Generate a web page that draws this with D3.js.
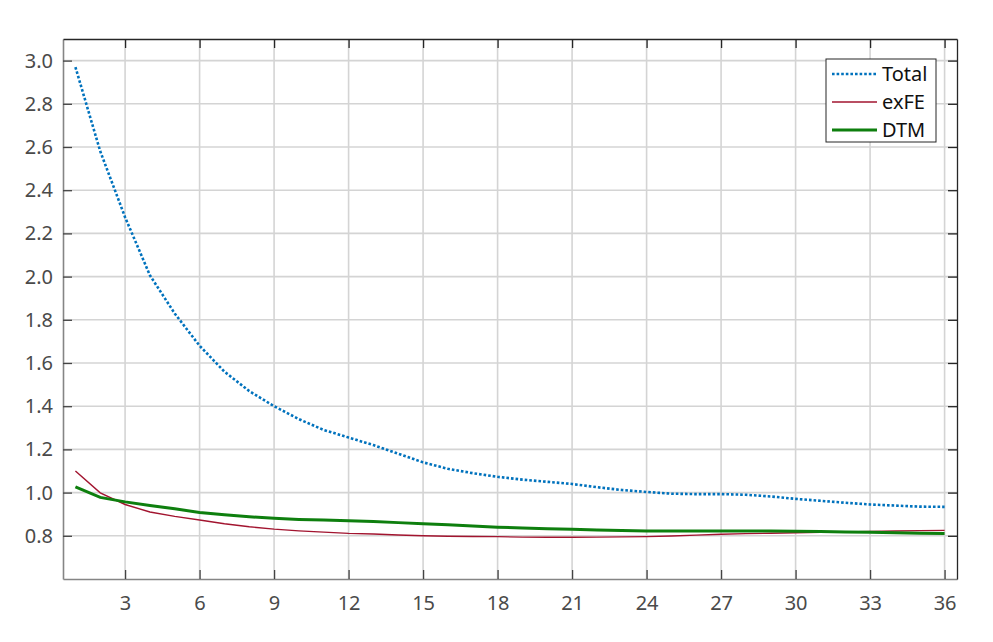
<!DOCTYPE html>
<html>
<head>
<meta charset="utf-8">
<script src="https://cdn.jsdelivr.net/npm/d3@7"></script>
<style>
  body { margin: 0; background: #fff; }
  text { font-family: 'Noto Sans', 'Open Sans', sans-serif; }
</style>
</head>
<body>
<div id="chart"></div>
<script>
const horizons = d3.range(1, 37)
const total = [2.97, 2.58, 2.275, 2.006, 1.829, 1.68, 1.56, 1.47, 1.40, 1.34,
               1.29, 1.255, 1.22, 1.18, 1.14, 1.11, 1.09, 1.073, 1.06, 1.05,
               1.04, 1.025, 1.012, 1.003, 0.995, 0.993, 0.993, 0.99, 0.982, 0.971,
               0.962, 0.953, 0.945, 0.94, 0.935, 0.934]
const exFE = [1.10, 0.999, 0.945, 0.91, 0.89, 0.873, 0.856, 0.842, 0.831, 0.823,
              0.817, 0.811, 0.808, 0.804, 0.80, 0.798, 0.797, 0.796, 0.794, 0.793,
              0.793, 0.794, 0.795, 0.796, 0.799, 0.803, 0.807, 0.81, 0.812, 0.814,
              0.816, 0.818, 0.82, 0.822, 0.824, 0.825]
const dtm = [1.027, 0.978, 0.957, 0.94, 0.925, 0.908, 0.897, 0.888, 0.881, 0.876,
             0.873, 0.870, 0.866, 0.861, 0.856, 0.851, 0.845, 0.840, 0.836, 0.833,
             0.83, 0.827, 0.824, 0.822, 0.822, 0.822, 0.822, 0.822, 0.822, 0.821,
             0.82, 0.818, 0.816, 0.814, 0.812, 0.811]
const xTicks = [3, 6, 9, 12, 15, 18, 21, 24, 27, 30, 33, 36]
const yTicks = [0.8, 1.0, 1.2, 1.4, 1.6, 1.8, 2.0, 2.2, 2.4, 2.6, 2.8, 3.0]
const seriesNames = ['Total', 'exFE', 'DTM']

let margin = {top: 39, right: 36, bottom: 63, left: 63},
    width = 993 - margin.left - margin.right,
    height = 642 - margin.top - margin.bottom

let x = d3.scaleLinear().domain([0.5, 36.5]).range([0, width])
let y = d3.scaleLinear().domain([0.6, 3.1]).range([height, 0])

let svg = d3.select('#chart').append('svg')
            .attr('width', 993)
            .attr('height', 642)
          .append('g')
            .attr('transform', 'translate(' + margin.left + ',' + margin.top + ')')

// grid
svg.append('g').selectAll('line').data(xTicks).join('line')
   .attr('x1', d => x(d)).attr('x2', d => x(d))
   .attr('y1', 0).attr('y2', height)
   .attr('stroke', '#d4d4d4').attr('stroke-width', 1.6)
svg.append('g').selectAll('line').data(yTicks).join('line')
   .attr('y1', d => y(d)).attr('y2', d => y(d))
   .attr('x1', 0).attr('x2', width)
   .attr('stroke', '#d4d4d4').attr('stroke-width', 1.6)

// axes
let xAxis = svg.append('g')
   .attr('transform', 'translate(0,' + height + ')')
   .call(d3.axisBottom(x).tickValues(xTicks).tickSizeInner(-9).tickSizeOuter(0).tickPadding(17))
let yAxis = svg.append('g')
   .call(d3.axisLeft(y).tickValues(yTicks).tickFormat(d3.format('.1f')).tickSizeInner(-9).tickSizeOuter(0).tickPadding(10))
let xTop = svg.append('g')
   .call(d3.axisTop(x).tickValues(xTicks).tickSizeInner(-9).tickSizeOuter(0).tickFormat(''))
let yRight = svg.append('g')
   .attr('transform', 'translate(' + width + ',0)')
   .call(d3.axisRight(y).tickValues(yTicks).tickSizeInner(-9).tickSizeOuter(0).tickFormat(''))

;[xAxis, yAxis].forEach(g => {
  g.select('.domain').attr('stroke', '#858585').attr('stroke-width', 1.6)
  g.selectAll('.tick line').attr('stroke', '#444').attr('stroke-width', 1.3)
  g.selectAll('.tick text').attr('fill', '#4a4a4a').attr('font-size', 20)
})
;[xTop, yRight].forEach(g => {
  g.select('.domain').attr('stroke', '#262626').attr('stroke-width', 1.3)
  g.selectAll('.tick line').attr('stroke', '#262626').attr('stroke-width', 1.3)
})

// lines
const series = [
  {name: 'Total', values: total, color: '#0072BD', width: 2.6, dash: '2.6,2'},
  {name: 'exFE', values: exFE, color: '#A2142F', width: 1.4, dash: null},
  {name: 'DTM', values: dtm, color: '#0E7F0E', width: 3, dash: null}
]

let line = d3.line().x((d, i) => x(horizons[i])).y(d => y(d))

series.forEach(s => {
  svg.append('path')
     .datum(s.values)
     .attr('fill', 'none')
     .attr('stroke', s.color)
     .attr('stroke-width', s.width)
     .attr('stroke-dasharray', s.dash)
     .attr('d', line)
})

// legend
let legend = svg.append('g').attr('transform', 'translate(' + (826 - margin.left) + ',' + (59 - margin.top) + ')')
legend.append('rect')
      .attr('width', 110).attr('height', 83)
      .attr('fill', '#fff').attr('stroke', '#262626').attr('stroke-width', 1)
series.forEach((s, i) => {
  let row = legend.append('g').attr('transform', 'translate(0,' + (15 + i * 28) + ')')
  row.append('line')
     .attr('x1', 6).attr('x2', 51)
     .attr('stroke', s.color)
     .attr('stroke-width', s.width)
     .attr('stroke-dasharray', s.dash)
  row.append('text')
     .attr('x', 56).attr('dy', '0.35em')
     .attr('font-size', 20).attr('fill', '#111')
     .text(seriesNames[i])
})
</script>
</body>
</html>
